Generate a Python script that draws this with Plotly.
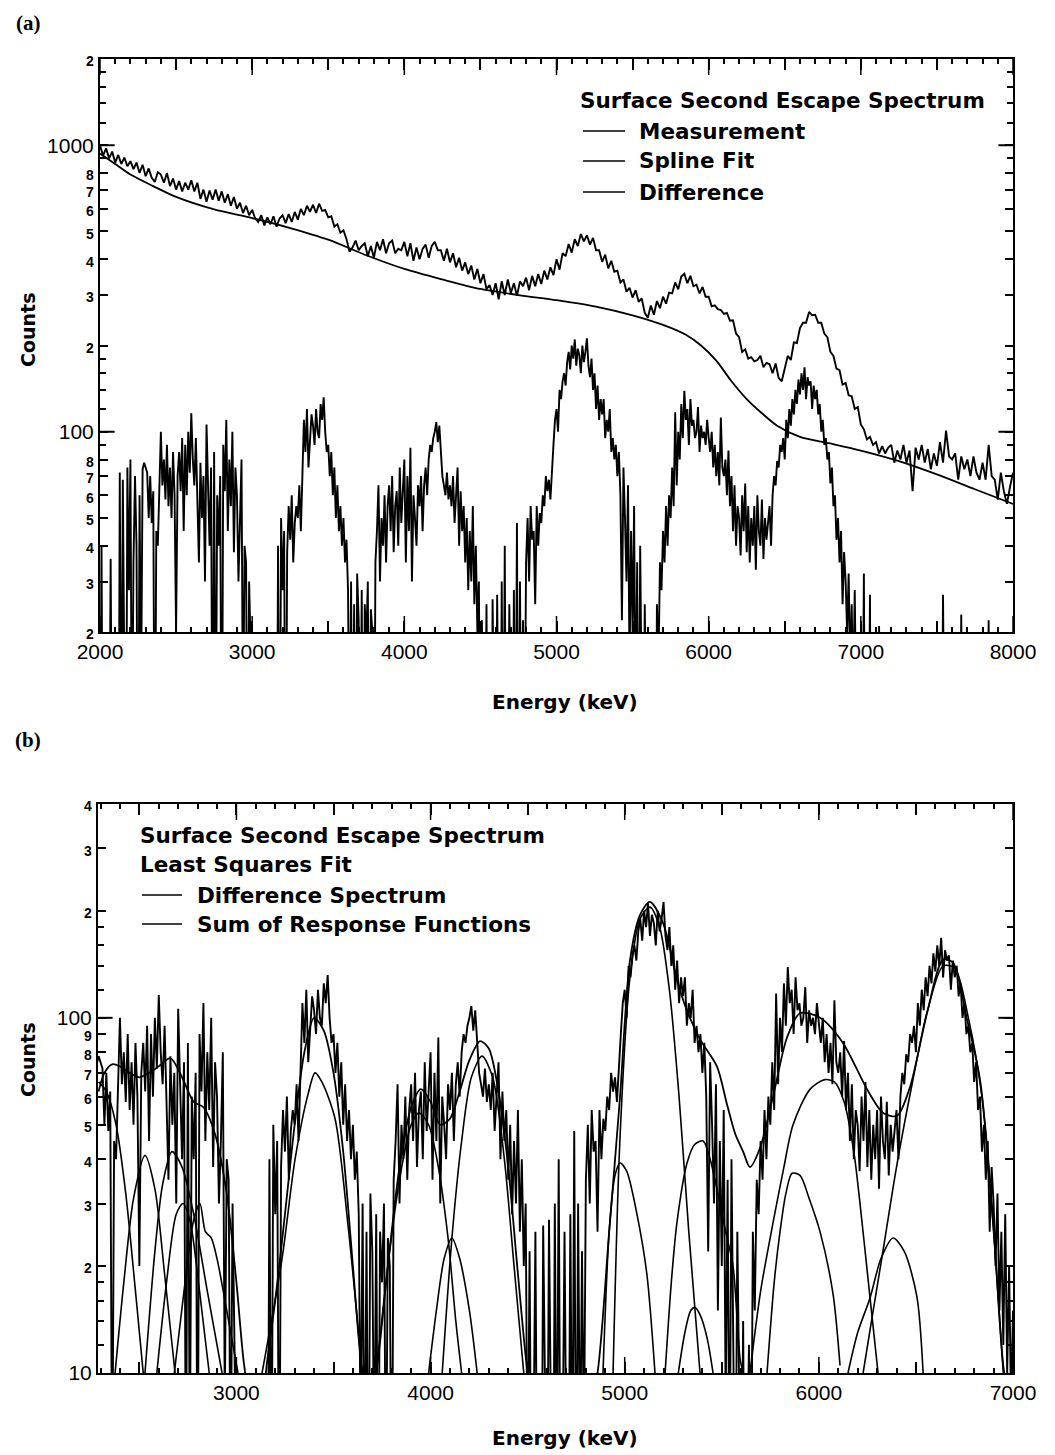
import plotly.graph_objects as go

# ================= DATA =================
# Panel (a) measurement, 20 keV channels starting at 2000 keV
meas_start, meas_step = 2000, 20
measurement = [
    1000, 920, 975, 900, 950, 870, 925, 860, 905, 845,    # 2000-2180
    880, 825, 870, 800, 855, 780, 830, 770, 745, 805,     # 2200-2380
    790, 740, 800, 720, 765, 700, 750, 690, 740, 700,     # 2400-2580
    755, 690, 740, 650, 700, 635, 695, 645, 700, 640,     # 2600-2780
    690, 630, 675, 615, 660, 600, 630, 580, 615, 570,     # 2800-2980
    595, 555, 540, 570, 525, 560, 530, 565, 520, 555,     # 3000-3180
    570, 535, 575, 540, 585, 550, 600, 570, 615, 585,     # 3200-3380
    620, 580, 625, 590, 595, 560, 565, 520, 530, 495,     # 3400-3580
    505, 470, 425, 440, 465, 430, 445, 455, 410, 445,     # 3600-3780
    405, 460, 430, 470, 420, 455, 465, 420, 435, 430,     # 3800-3980
    460, 410, 455, 395, 440, 400, 435, 450, 405, 445,     # 4000-4180
    460, 430, 430, 395, 435, 390, 420, 375, 405, 365,     # 4200-4380
    390, 355, 380, 340, 370, 330, 355, 315, 325, 300,     # 4400-4580
    330, 290, 335, 300, 340, 305, 330, 298, 335, 322,     # 4600-4780
    345, 312, 350, 322, 355, 328, 365, 340, 375, 352,     # 4800-4980
    400, 368, 420, 410, 452, 422, 470, 445, 490, 462,     # 5000-5180
    485, 450, 475, 430, 430, 392, 415, 372, 395, 362,     # 5200-5380
    365, 332, 340, 308, 318, 294, 312, 284, 292, 260,     # 5400-5580
    250, 276, 256, 286, 270, 296, 280, 306, 304, 332,     # 5600-5780
    314, 348, 356, 330, 350, 322, 326, 304, 320, 296,     # 5800-5980
    296, 274, 276, 268, 266, 258, 260, 244, 245, 220,     # 6000-6180
    214, 190, 194, 180, 182, 176, 178, 184, 168, 174,     # 6200-6380
    172, 160, 173, 154, 150, 166, 184, 178, 205, 204,     # 6400-6580
    230, 240, 240, 262, 255, 256, 240, 240, 220, 214,     # 6600-6780
    190, 184, 166, 164, 146, 148, 134, 133, 120, 122,     # 6800-6980
    106, 102, 94, 96, 90, 92, 84, 89, 84, 88,             # 7000-7180
    90, 78, 86, 80, 90, 78, 86, 62, 88, 80,               # 7200-7380
    90, 78, 87, 74, 84, 76, 92, 78, 101, 82,              # 7400-7580
    80, 84, 68, 82, 74, 80, 70, 82, 72, 68,               # 7600-7780
    78, 68, 90, 70, 68, 58, 72, 62, 56, 64,               # 7800-7980
    72,                                                   # 8000
]

# Panel (a) spline fit of the continuum
spline_energy = [2000, 2100, 2200, 2350, 2500, 2750, 3000, 3250, 3500, 3750,
                 4000, 4250, 4500, 4750, 5000, 5250, 5500, 5700, 5850, 5950,
                 6050, 6150, 6250, 6350, 6450, 6600, 6800, 7000, 7250, 7500,
                 7750, 8000]
spline_counts = [935, 860, 790, 720, 660, 597, 557, 514, 468, 413,
                 370, 340, 315, 300, 288, 274, 255, 236, 218, 200,
                 177, 150, 130, 116, 105, 96, 91, 86, 79, 71,
                 63, 56]

# Difference spectrum (measurement - spline), 10 keV channels from 2000 keV
# (values below the axis floor stand for channels at or below zero)
diff_start, diff_step = 2000, 10
difference = [
    4, 40, 3, 2, 6, 3, 5, 36, 4, 2,              # 2000
    3, 8, 2, 72, 5, 68, 30, 3, 75, 28,           # 2100
    80, 6, 35, 70, 40, 3, 60, 12, 74, 78,        # 2200
    75, 72, 50, 70, 48, 62, 4, 45, 40, 70,       # 2300
    100, 65, 80, 58, 90, 55, 75, 50, 85, 60,     # 2400
    20, 70, 85, 62, 95, 45, 90, 60, 100, 72,     # 2500
    116, 80, 65, 95, 55, 35, 78, 50, 70, 30,     # 2600
    106, 60, 40, 75, 4, 85, 5, 60, 40, 70,       # 2700
    3, 90, 62, 110, 45, 80, 55, 100, 38, 75,     # 2800
    60, 30, 45, 80, 8, 40, 35, 4, 30, 12,        # 2900
    4, 6, 3, 2, 5, 3, 8, 2, 3, 4,                # 3000
    3, 5, 2, 6, 3, 4, 2, 40, 3, 50,              # 3100
    28, 45, 3, 38, 55, 42, 60, 35, 48, 55,       # 3200
    50, 65, 45, 70, 110, 85, 120, 75, 95, 115,   # 3300
    105, 90, 120, 100, 95, 125, 110, 132, 100, 85,  # 3400
    90, 70, 85, 60, 75, 50, 65, 45, 55, 40,      # 3500
    50, 35, 42, 28, 6, 30, 4, 25, 3, 32,         # 3600
    22, 5, 28, 3, 25, 18, 30, 4, 24, 20,         # 3700
    3, 35, 45, 65, 30, 50, 40, 60, 35, 55,       # 3800
    65, 45, 70, 38, 55, 62, 40, 75, 48, 60,      # 3900
    80, 35, 70, 45, 88, 30, 60, 50, 40, 65,      # 4000
    55, 70, 45, 65, 75, 60, 80, 90, 85, 95,      # 4100
    100, 108, 92, 105, 85, 70, 65, 60, 72, 58,   # 4200
    65, 55, 70, 48, 60, 75, 40, 62, 45, 55,      # 4300
    35, 50, 28, 45, 30, 55, 25, 40, 20, 30,      # 4400
    4, 22, 3, 6, 25, 3, 5, 2, 26, 4,             # 4500
    3, 27, 5, 2, 30, 4, 40, 3, 6, 25,            # 4600
    5, 3, 28, 4, 48, 3, 30, 5, 22, 6,            # 4700
    35, 50, 30, 55, 42, 45, 25, 55, 40, 52,      # 4800
    48, 60, 55, 70, 62, 68, 58, 75, 90, 110,     # 4900
    120, 100, 140, 130, 150, 160, 145, 175, 190, 165,  # 5000
    200, 180, 210, 170, 195, 185, 160, 200, 175, 190,  # 5100
    212, 170, 155, 180, 140, 160, 120, 145, 110, 130,  # 5200
    115, 130, 95, 110, 100, 120, 85, 95, 80, 90,       # 5300
    70, 85, 60, 22, 75, 50, 30, 65, 15, 45,      # 5400
    20, 55, 8, 35, 4, 40, 12, 3, 25, 5,          # 5500
    3, 14, 2, 5, 12, 3, 25, 15, 35, 28,          # 5600
    45, 35, 55, 40, 60, 50, 75, 55, 117, 65,     # 5700
    100, 80, 125, 95, 139, 110, 120, 90, 130, 105,  # 5800
    110, 95, 100, 122, 85, 105, 95, 100, 90, 110,   # 5900
    95, 85, 100, 75, 90, 70, 85, 65, 112, 75,    # 6000
    70, 80, 60, 86, 55, 70, 45, 65, 40, 55,      # 6100
    50, 37, 60, 45, 66, 38, 55, 35, 50, 40,      # 6200
    55, 33, 60, 45, 40, 58, 36, 50, 42, 48,      # 6300
    55, 40, 60, 70, 65, 79, 75, 90, 85, 95,      # 6400
    80, 110, 95, 120, 105, 130, 115, 140, 125, 152,  # 6500
    135, 160, 140, 168, 130, 155, 145, 150, 120, 145,  # 6600
    130, 140, 115, 125, 100, 110, 90, 95, 80, 85,      # 6700
    66, 75, 55, 60, 42, 50, 35, 45, 25, 38,      # 6800
    30, 20, 32, 15, 25, 12, 28, 10, 20, 8,       # 6900
    15, 5, 32, 3, 12, 4, 27, 2, 8, 3,            # 7000
    5, 2, 21, 3, 6, 4, 3, 8, 2, 5,               # 7100
    3, 6, 2, 4, 3, 7, 2, 5, 3, 4,                # 7200
    4, 2, 6, 3, 2, 5, 3, 2, 4, 3,                # 7300
    2, 5, 3, 7, 2, 4, 3, 6, 2, 3,                # 7400
    5, 2, 4, 3, 27, 3, 2, 6, 3, 4,               # 7500
    2, 5, 3, 4, 2, 6, 23, 3, 2, 5,               # 7600
    4, 3, 20, 2, 5, 3, 4, 2, 6, 3,               # 7700
    2, 4, 3, 5, 22, 3, 2, 6, 3, 4,               # 7800
    3, 2, 5, 3, 4, 2, 18, 3, 5, 2,               # 7900
    4,                                           # 8000
]

# Panel (b) sum of response functions
sum_energy = [2290, 2320, 2360, 2400, 2450, 2500, 2550, 2600, 2660, 2720,
              2780, 2830, 2890, 2950, 3000, 3040, 3080, 3120, 3160, 3200,
              3250, 3300, 3350, 3400, 3450, 3500, 3550, 3600, 3640, 3680,
              3720, 3780, 3840, 3900, 3950, 4000, 4050, 4100, 4150, 4200,
              4255, 4300, 4350, 4400, 4450, 4500, 4550, 4800, 4860, 4920,
              4976, 5027, 5079, 5130, 5197, 5269, 5320, 5388, 5475, 5527,
              5570, 5610, 5645, 5697, 5764, 5836, 5903, 6006, 6124, 6248,
              6331, 6403, 6470, 6557, 6640, 6691, 6763, 6830, 6897, 6949,
              7000]
sum_counts = [62, 70, 74, 73, 70, 68, 70, 73, 77, 68,
              58, 56, 47, 32, 18, 10.5, 8, 8, 11, 16,
              28, 50, 80, 100, 92, 70, 42, 20, 11, 8,
              10, 20, 38, 56, 63, 58, 50, 52, 62, 76,
              86, 82, 62, 38, 19, 10, 7, 7, 10, 25,
              60, 145, 195, 212, 185, 128, 105, 87, 73, 57,
              47, 42, 38, 43, 60, 88, 103, 100, 85, 63,
              54, 53, 64, 103, 146, 143, 99, 67, 27, 10.6,
              7]

# Panel (b) individual response functions
resp0_energy = [2290, 2330, 2380, 2430, 2480, 2520]
resp0_counts = [66, 62, 50, 32, 17, 10]
resp1_energy = [2375, 2420, 2470, 2529, 2580, 2630, 2684]
resp1_counts = [10, 18, 31, 41, 33, 19, 10]
resp2_energy = [2529, 2580, 2620, 2668, 2720, 2780, 2850, 2926]
resp2_counts = [10, 22, 34, 42, 38, 28, 17, 10]
resp3_energy = [2590, 2640, 2690, 2725, 2760, 2810, 2860]
resp3_counts = [10, 18, 28, 30, 27, 17, 10]
resp4_energy = [2680, 2730, 2780, 2812, 2840, 2870, 2900, 2950, 3008]
resp4_counts = [10, 17, 27, 30, 25, 24, 21, 15, 10]
resp5_energy = [3132, 3235, 3302, 3369, 3405, 3440, 3508, 3575, 3626, 3647]
resp5_counts = [10, 21, 40, 61, 70, 66, 52, 26, 13.5, 10]
resp6_energy = [3720, 3780, 3840, 3900, 3940, 3990, 4040, 4090, 4130, 4160]
resp6_counts = [10, 20, 35, 50, 54, 50, 38, 24, 14, 10]
resp7_energy = [3990, 4030, 4070, 4110, 4150, 4200, 4240]
resp7_counts = [10, 15, 21, 24, 21, 15, 10]
resp8_energy = [4060, 4110, 4160, 4210, 4265, 4320, 4380, 4430, 4480]
resp8_counts = [10, 24, 45, 68, 78, 68, 40, 20, 10]
resp9_energy = [4888, 4920, 4950, 4976, 5010, 5063, 5114, 5156]
resp9_counts = [10, 25, 36, 39, 37, 28, 19, 10]
resp10_energy = [4940, 4975, 5027, 5079, 5130, 5180, 5230, 5280, 5330, 5388]
resp10_counts = [10, 45, 130, 190, 205, 180, 120, 60, 25, 10]
resp11_energy = [5208, 5240, 5269, 5321, 5360, 5404, 5440, 5475, 5520, 5558, 5594, 5610]
resp11_counts = [10, 18, 26.5, 39, 44, 45, 40, 33, 25, 20, 11, 10]
resp12_energy = [5276, 5310, 5340, 5362, 5390, 5425, 5455]
resp12_counts = [10, 13, 15, 15.3, 14.5, 12.5, 10]
resp13_energy = [5733, 5770, 5800, 5830, 5862, 5903, 5950, 6006, 6073, 6109]
resp13_counts = [10, 18, 25, 32, 36.5, 36, 31, 25, 16.7, 10.5]
resp14_energy = [5645, 5700, 5764, 5820, 5867, 5955, 6030, 6080, 6130, 6180, 6212, 6260, 6305]
resp14_counts = [10, 17, 26.5, 38, 50, 63, 67, 66, 58, 42, 30, 17, 10]
resp15_energy = [6150, 6200, 6264, 6320, 6382, 6440, 6505, 6537]
resp15_counts = [10, 13, 16.3, 21, 24, 22, 16.4, 10]
resp16_energy = [6228, 6280, 6330, 6400, 6480, 6560, 6640, 6700, 6770, 6840, 6900, 6950]
resp16_counts = [10, 15, 22, 38, 65, 105, 140, 138, 100, 60, 25, 10]

# Axis tick values
xa_major = [2000, 2500, 3000, 3500, 4000, 4500, 5000, 5500, 6000, 6500, 7000, 7500, 8000]
xb_major = [2500, 3000, 3500, 4000, 4500, 5000, 5500, 6000, 6500, 7000]
ya_vals = [20, 30, 40, 50, 60, 70, 80, 100, 200, 300, 400, 500, 600, 700, 800, 1000, 2000]
ya_labels = ["2", "3", "4", "5", "6", "7", "8", "100", "2", "3", "4", "5", "6", "7", "8", "1000", "2"]
ya_minor = [90, 120, 140, 160, 180, 900, 1200, 1400, 1600, 1800]
yb_vals = [10, 20, 30, 40, 50, 60, 70, 80, 90, 100, 200, 300, 400]
yb_labels = ["10", "2", "3", "4", "5", "6", "7", "8", "9", "100", "2", "3", "4"]
yb_minor = [12, 14, 16, 18, 120, 140, 160, 180]

# ================= FIGURE =================
W, H = 1055, 1455
OFF = 8          # page body margin of the html output
BLACK = "black"
HEAVY = "DejaVu Sans"
REG = "Liberation Sans"


def px_x(p):
    return (p - OFF) / W


def px_y(p):
    return 1 - (p - OFF) / H


meas_energy = [meas_start + i * meas_step for i in range(len(measurement))]
diff_energy = [diff_start + i * diff_step for i in range(len(difference))]

fig = go.Figure()
line_noisy = dict(color=BLACK, width=1.9)
line_smooth = dict(color=BLACK, width=1.8, shape="spline", smoothing=0.8)

# panel (a)
fig.add_trace(go.Scatter(x=meas_energy, y=measurement, mode="lines", line=line_noisy,
                         xaxis="x", yaxis="y", showlegend=False))
fig.add_trace(go.Scatter(x=spline_energy, y=spline_counts, mode="lines", line=line_smooth,
                         xaxis="x", yaxis="y", showlegend=False))
fig.add_trace(go.Scatter(x=diff_energy, y=difference, mode="lines", line=line_noisy,
                         xaxis="x", yaxis="y", showlegend=False))

# panel (b)
fig.add_trace(go.Scatter(x=diff_energy, y=difference, mode="lines", line=line_noisy,
                         xaxis="x2", yaxis="y2", showlegend=False))
responses = [
    (resp0_energy, resp0_counts), (resp1_energy, resp1_counts), (resp2_energy, resp2_counts),
    (resp3_energy, resp3_counts), (resp4_energy, resp4_counts), (resp5_energy, resp5_counts),
    (resp6_energy, resp6_counts), (resp7_energy, resp7_counts), (resp8_energy, resp8_counts),
    (resp9_energy, resp9_counts), (resp10_energy, resp10_counts), (resp11_energy, resp11_counts),
    (resp12_energy, resp12_counts), (resp13_energy, resp13_counts), (resp14_energy, resp14_counts),
    (resp15_energy, resp15_counts), (resp16_energy, resp16_counts),
]
for e, c in responses:
    fig.add_trace(go.Scatter(x=e, y=c, mode="lines",
                             line=dict(color=BLACK, width=1.6, shape="spline", smoothing=0.8),
                             xaxis="x2", yaxis="y2", showlegend=False))
fig.add_trace(go.Scatter(x=sum_energy, y=sum_counts, mode="lines", line=line_smooth,
                         xaxis="x2", yaxis="y2", showlegend=False))


def small(s):
    return '<span style="font-size:14px"><b>%s</b></span>' % s


def ylabels(labels):
    return [t if len(t) > 1 else small(t) for t in labels]


def xlabels(vals):
    return [str(v) if v % 1000 == 0 else "" for v in vals]


ax_common = dict(showline=True, linecolor=BLACK, linewidth=2, mirror="allticks",
                 ticks="inside", tickcolor=BLACK, tickwidth=1.5, showgrid=False,
                 zeroline=False, automargin=False,
                 tickfont=dict(family=REG, size=21, color=BLACK))

xa_dom = [px_x(100), px_x(1013)]
xb_dom = [px_x(98), px_x(1013)]

fig.update_layout(
    width=W, height=H, margin=dict(l=0, r=0, t=0, b=0, autoexpand=False),
    paper_bgcolor="white", plot_bgcolor="white", showlegend=False,
    xaxis=dict(domain=xa_dom, anchor="y", range=[2000, 8000], tickmode="array",
               tickvals=xa_major, ticktext=xlabels(xa_major), ticklen=11,
               minor=dict(dtick=100, tick0=2000, ticklen=5, ticks="inside", tickcolor=BLACK, tickwidth=1.5),
               **ax_common),
    yaxis=dict(domain=[px_y(632), px_y(59)], anchor="x", type="log",
               range=[1.30103, 3.30103], tickmode="array", tickvals=ya_vals,
               ticktext=ylabels(ya_labels), ticklen=8,
               minor=dict(tickmode="array", tickvals=ya_minor, ticklen=6, ticks="inside", tickcolor=BLACK, tickwidth=1.5),
               **ax_common),
    xaxis2=dict(domain=xb_dom, anchor="y2", range=[2287, 7000], tickmode="array",
                tickvals=xb_major, ticktext=xlabels(xb_major), ticklen=11,
                minor=dict(dtick=100, tick0=2000, ticklen=5, ticks="inside", tickcolor=BLACK, tickwidth=1.5),
                **ax_common),
    yaxis2=dict(domain=[px_y(1373), px_y(804)], anchor="x2", type="log",
                range=[1, 2.60206], tickmode="array", tickvals=yb_vals,
                ticktext=ylabels(yb_labels), ticklen=8,
                minor=dict(tickmode="array", tickvals=yb_minor, ticklen=6, ticks="inside", tickcolor=BLACK, tickwidth=1.5),
                **ax_common),
)

shapes = []
# longer ticks at decades and at thousands
for yref, decades in (("y", [100, 1000]), ("y2", [100])):
    xd = "x domain" if yref == "y" else "x2 domain"
    for d in decades:
        shapes.append(dict(type="line", xref=xd, yref=yref, x0=0, x1=0.016, y0=d, y1=d,
                           line=dict(color=BLACK, width=2)))
        shapes.append(dict(type="line", xref=xd, yref=yref, x0=0.984, x1=1, y0=d, y1=d,
                           line=dict(color=BLACK, width=2)))
for xref, vals in (("x", xa_major), ("x2", xb_major)):
    yd = "y domain" if xref == "x" else "y2 domain"
    for v in vals:
        if v % 1000 == 0:
            shapes.append(dict(type="line", xref=xref, yref=yd, x0=v, x1=v, y0=0, y1=0.028,
                               line=dict(color=BLACK, width=1.5)))
            shapes.append(dict(type="line", xref=xref, yref=yd, x0=v, x1=v, y0=0.972, y1=1,
                               line=dict(color=BLACK, width=1.5)))

# legend sample lines
for (x0, x1, y) in ((583, 625, 131), (583, 625, 161), (583, 625, 192),
                    (142, 182, 895), (142, 182, 924)):
    shapes.append(dict(type="line", xref="paper", yref="paper", x0=px_x(x0), x1=px_x(x1),
                       y0=px_y(y), y1=px_y(y), line=dict(color=BLACK, width=1.5)))

annotations = []


def txt(text, x, y, size=21.5, family=HEAVY, xanchor="left", angle=0):
    annotations.append(dict(text=text, x=px_x(x), y=px_y(y), xref="paper", yref="paper",
                            xanchor=xanchor, yanchor="middle", showarrow=False, textangle=angle,
                            font=dict(family=family, size=size, color=BLACK)))


txt("<b>(a)</b>", 28, 23, size=21, family="Liberation Serif", xanchor="center")
txt("<b>(b)</b>", 28, 740, size=21, family="Liberation Serif", xanchor="center")
txt("<b>Counts</b>", 28, 330, size=19, xanchor="center", angle=-90)
txt("<b>Counts</b>", 28, 1060, size=19, xanchor="center", angle=-90)
txt("<b>Energy (keV)</b>", 565, 702, size=20, xanchor="center")
txt("<b>Energy (keV)</b>", 565, 1438, size=20, xanchor="center")

txt("<b>Surface Second Escape Spectrum</b>", 578, 100)
txt("<b>Measurement</b>", 637, 131)
txt("<b>Spline Fit</b>", 637, 161)
txt("<b>Difference</b>", 637, 192)

txt("<b>Surface Second Escape Spectrum</b>", 138, 835)
txt("<b>Least Squares Fit</b>", 138, 864)
txt("<b>Difference Spectrum</b>", 195, 895)
txt("<b>Sum of Response Functions</b>", 195, 924)

fig.update_layout(shapes=shapes, annotations=annotations)
fig.write_html("out.html")
